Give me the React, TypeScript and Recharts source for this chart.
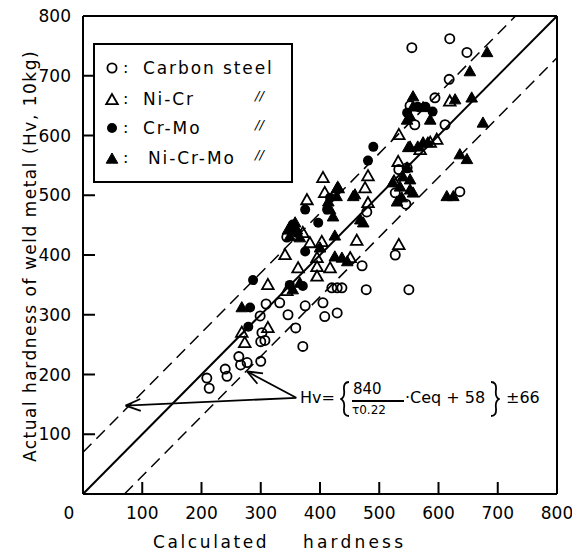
import React from "react";
import { ScatterChart, Scatter, XAxis, YAxis, ReferenceLine } from "recharts";

const carbonSteel: [number, number][] = [
  [209, 194], [213, 177], [240, 209], [243, 197], [263, 230], [266, 216],
  [277, 220], [300, 222], [299, 298], [302, 270], [309, 318], [307, 257],
  [300, 255], [332, 320], [346, 300], [359, 278], [371, 247], [375, 315],
  [405, 320], [408, 297], [429, 303], [420, 345], [429, 345], [437, 345],
  [478, 342], [550, 342], [471, 382], [527, 400], [344, 430], [479, 472],
  [527, 504], [545, 485], [636, 506], [533, 543], [547, 546], [560, 618],
  [552, 650], [594, 663], [618, 694], [611, 618], [648, 739], [555, 747],
  [619, 762],
];
const niCr: [number, number][] = [
  [273, 253], [268, 270], [312, 278], [312, 350], [344, 340], [341, 400],
  [363, 378], [371, 437], [378, 492], [383, 420], [395, 395], [395, 380],
  [395, 364], [403, 422], [405, 529], [408, 504], [417, 378], [430, 512],
  [451, 395], [462, 424], [476, 512], [481, 487], [481, 532], [525, 523],
  [532, 556], [533, 601], [533, 417], [569, 576], [586, 588], [597, 593],
  [619, 657],
];
const crMo: [number, number][] = [
  [279, 280], [282, 312], [287, 358], [349, 350], [371, 348], [354, 451],
  [361, 437], [375, 476], [375, 406], [397, 454], [412, 476], [417, 496],
  [481, 558], [490, 581], [547, 638], [565, 648], [578, 648], [590, 640],
  [353, 445],
];
const niCrMo: [number, number][] = [
  [268, 312], [354, 342], [366, 353], [349, 431], [361, 442], [366, 429],
  [346, 442], [358, 454], [400, 412], [425, 397], [437, 395], [446, 389],
  [425, 432], [417, 476], [422, 464], [414, 489], [428, 498], [429, 512],
  [459, 501], [468, 459], [473, 454], [431, 512], [456, 498], [523, 521],
  [530, 489], [538, 496], [540, 531], [552, 509], [557, 504], [552, 526],
  [535, 514], [547, 546], [549, 580], [552, 581], [565, 581], [574, 588],
  [582, 588], [552, 632], [547, 626], [557, 665], [557, 648], [574, 647],
  [586, 626], [614, 498], [625, 498], [636, 568], [648, 560], [628, 660],
  [656, 663], [653, 707], [675, 621], [682, 739],
];

const axisTicks = [0, 100, 200, 300, 400, 500, 600, 700, 800];
const band = 70; // drawn scatter band (label says ±66)
const arrowFrom = { x: 360, y: 161 };
const arrowTips = [
  { x: 72, y: 148 },
  { x: 277, y: 205 },
];

const FONT = "'DejaVu Sans', sans-serif";
const toPoints = (d: [number, number][]) => d.map(([x, y]) => ({ x, y }));

function OpenCircle({ cx, cy }: any) {
  return <circle cx={cx} cy={cy} r={4.6} fill="none" stroke="#000" strokeWidth={1.8} />;
}
function FilledCircle({ cx, cy }: any) {
  return <circle cx={cx} cy={cy} r={5} fill="#000" />;
}
function Tri({ cx, cy, filled }: any) {
  const pts = `${cx},${cy - 6} ${cx - 5.8},${cy + 4.2} ${cx + 5.8},${cy + 4.2}`;
  return (
    <polygon
      points={pts}
      fill={filled ? "#000" : "none"}
      stroke="#000"
      strokeWidth={filled ? 1 : 1.8}
      strokeLinejoin="miter"
    />
  );
}

const TICK_LEN = 12;
const inner = (v: number) => v > 0 && v < 800;

function BottomTick({ x, y, payload }: any) {
  const v = payload.value;
  return (
    <g>
      {inner(v) && <line x1={x} x2={x} y1={y} y2={y - TICK_LEN} stroke="#000" strokeWidth={2} />}
      <text x={v === 0 ? x - 14 : x} y={y + 25} textAnchor="middle" fontSize={17} fontFamily={FONT} fill="#000">
        {v}
      </text>
    </g>
  );
}
function LeftTick({ x, y, payload }: any) {
  const v = payload.value;
  return (
    <g>
      {inner(v) && <line x1={x} x2={x + TICK_LEN} y1={y} y2={y} stroke="#000" strokeWidth={2} />}
      {v > 0 && (
        <text x={x - 12} y={y + 6} textAnchor="end" fontSize={17} fontFamily={FONT} fill="#000">
          {v}
        </text>
      )}
    </g>
  );
}
function TopTick({ x, y, payload }: any) {
  const v = payload.value;
  return inner(v) ? <line x1={x} x2={x} y1={y} y2={y + TICK_LEN} stroke="#000" strokeWidth={2} /> : <g />;
}
function RightTick({ x, y, payload }: any) {
  const v = payload.value;
  return inner(v) ? <line x1={x} x2={x - 14} y1={y} y2={y} stroke="#000" strokeWidth={2} /> : <g />;
}

function Arrow(props: any) {
  const { x1, y1, x2, y2 } = props;
  const a = Math.atan2(y1 - y2, x1 - x2);
  const len = 16;
  const sp = 0.38;
  return (
    <g stroke="#000" strokeWidth={1.8} fill="none">
      <line x1={x1} y1={y1} x2={x2} y2={y2} />
      <line x1={x2} y1={y2} x2={x2 + len * Math.cos(a + sp)} y2={y2 + len * Math.sin(a + sp)} />
      <line x1={x2} y1={y2} x2={x2 + len * Math.cos(a - sp)} y2={y2 + len * Math.sin(a - sp)} />
    </g>
  );
}

const legendRows = [
  { label: "Carbon steel", marker: "oc", y: 68, tx: 143, ditto: false },
  { label: "Ni-Cr", marker: "ot", y: 99, tx: 143, ditto: true },
  { label: "Cr-Mo", marker: "fc", y: 128, tx: 143, ditto: true },
  { label: "Ni-Cr-Mo", marker: "ft", y: 158, tx: 148, ditto: true },
];

function LegendMarker({ kind }: { kind: string }) {
  return (
    <svg width={16} height={16} style={{ position: "absolute", left: 104, top: -8 }}>
      {kind === "oc" && <OpenCircle cx={8} cy={8} />}
      {kind === "fc" && <FilledCircle cx={8} cy={8} />}
      {kind === "ot" && <Tri cx={8} cy={9} />}
      {kind === "ft" && <Tri cx={8} cy={9} filled />}
    </svg>
  );
}

const txt = (left: number, cy: number, s: string, size = 17, extra: any = {}) => (
  <span
    style={{
      position: "absolute",
      left,
      top: cy - size * 0.6,
      fontSize: size,
      lineHeight: `${size * 1.2}px`,
      fontFamily: FONT,
      whiteSpace: "nowrap",
      color: "#000",
      ...extra,
    }}
  >
    {s}
  </span>
);

// curly brace drawn as a path, h = total height
function Brace({ left, cy, h, flip }: { left: number; cy: number; h: number; flip?: boolean }) {
  const w = 9;
  const m = h / 2;
  const d = `M ${w} 1 Q ${w * 0.35} 1 ${w * 0.45} ${m * 0.5} Q ${w * 0.55} ${m - 2} 1 ${m} Q ${w * 0.55} ${m + 2} ${w * 0.45} ${m * 1.5} Q ${w * 0.35} ${h - 1} ${w} ${h - 1}`;
  return (
    <svg
      width={w + 1}
      height={h}
      style={{ position: "absolute", left, top: cy - m, transform: flip ? "scaleX(-1)" : undefined }}
    >
      <path d={d} fill="none" stroke="#000" strokeWidth={1.8} />
    </svg>
  );
}

export default function App() {
  return (
    <div style={{ position: "absolute", left: 0, top: 0, width: 572, height: 553, background: "#fff" }}>
      <ScatterChart width={572} height={553} margin={{ top: 0, right: 0, bottom: 0, left: 0 }}>
        <XAxis
          dataKey="x"
          type="number"
          domain={[0, 800]}
          ticks={axisTicks}
          interval={0}
          height={59}
          tickSize={0}
          tickMargin={0}
          tick={<BottomTick />}
          axisLine={{ stroke: "#000", strokeWidth: 2 }}
        />
        <XAxis
          xAxisId="top"
          orientation="top"
          type="number"
          domain={[0, 800]}
          ticks={axisTicks}
          interval={0}
          height={16}
          tickSize={0}
          tickMargin={0}
          tick={<TopTick />}
          axisLine={{ stroke: "#000", strokeWidth: 2 }}
        />
        <YAxis
          dataKey="y"
          type="number"
          domain={[0, 800]}
          ticks={axisTicks}
          interval={0}
          width={83}
          tickSize={0}
          tickMargin={0}
          tick={<LeftTick />}
          axisLine={{ stroke: "#000", strokeWidth: 2 }}
        />
        <YAxis
          yAxisId="right"
          orientation="right"
          type="number"
          domain={[0, 800]}
          ticks={axisTicks}
          interval={0}
          width={15}
          tickSize={0}
          tickMargin={0}
          tick={<RightTick />}
          axisLine={{ stroke: "#000", strokeWidth: 2 }}
        />
        <ReferenceLine
          segment={[{ x: 0, y: 0 }, { x: 800, y: 800 }]}
          stroke="#000"
          strokeWidth={2}
        />
        <ReferenceLine
          segment={[{ x: 0, y: band }, { x: 800 - band, y: 800 }]}
          stroke="#000"
          strokeWidth={1.5}
          strokeDasharray="12 7"
        />
        <ReferenceLine
          segment={[{ x: band, y: 0 }, { x: 800, y: 800 - band }]}
          stroke="#000"
          strokeWidth={1.5}
          strokeDasharray="12 7"
        />
        {arrowTips.map((tip, i) => (
          <ReferenceLine key={i} segment={[arrowFrom, tip]} shape={(p: any) => <Arrow {...p} />} />
        ))}
        <Scatter data={toPoints(carbonSteel)} isAnimationActive={false} shape={(p: any) => <OpenCircle cx={p.cx} cy={p.cy} />} />
        <Scatter data={toPoints(niCr)} isAnimationActive={false} shape={(p: any) => <Tri cx={p.cx} cy={p.cy} />} />
        <Scatter data={toPoints(crMo)} isAnimationActive={false} shape={(p: any) => <FilledCircle cx={p.cx} cy={p.cy} />} />
        <Scatter data={toPoints(niCrMo)} isAnimationActive={false} shape={(p: any) => <Tri cx={p.cx} cy={p.cy} filled />} />
      </ScatterChart>

      {/* legend */}
      <div
        style={{
          position: "absolute",
          left: 93,
          top: 43,
          width: 200,
          height: 140,
          border: "2px solid #000",
          boxSizing: "border-box",
          background: "#fff",
        }}
      />
      {legendRows.map((r) => (
        <div key={r.label} style={{ position: "absolute", left: 0, top: r.y }}>
          <LegendMarker kind={r.marker} />
          {txt(123, 0, ":", 16)}
          {txt(r.tx, 0, r.label, 17, { letterSpacing: 1.9 })}
          {r.ditto && txt(255, -3, "//", 13, { fontStyle: "italic" })}
        </div>
      ))}

      {/* formula annotation */}
      {txt(300, 398, "Hv=", 16)}
      <Brace left={340} cy={399} h={36} />
      {txt(353, 389, "840", 15)}
      <div style={{ position: "absolute", left: 352, top: 400, width: 52, height: 1.5, background: "#000" }} />
      {txt(352, 410, "τ0.22", 12)}
      {txt(405, 398, "·Ceq + 58", 16)}
      <Brace left={490} cy={399} h={36} flip />
      {txt(506, 398, "±66", 16)}

      {/* axis titles */}
      <div
        style={{
          position: "absolute",
          left: 30,
          top: 256,
          transform: "translate(-50%, -50%) rotate(-90deg)",
          fontSize: 17,
          letterSpacing: 1.5,
          fontFamily: FONT,
          whiteSpace: "nowrap",
          color: "#000",
        }}
      >
        Actual hardness of weld metal (Hv, 10kg)
      </div>
      {txt(153, 542, "Calculated", 17, { letterSpacing: 2.6 })}
      {txt(303, 542, "hardness", 17, { letterSpacing: 3.2 })}
    </div>
  );
}
